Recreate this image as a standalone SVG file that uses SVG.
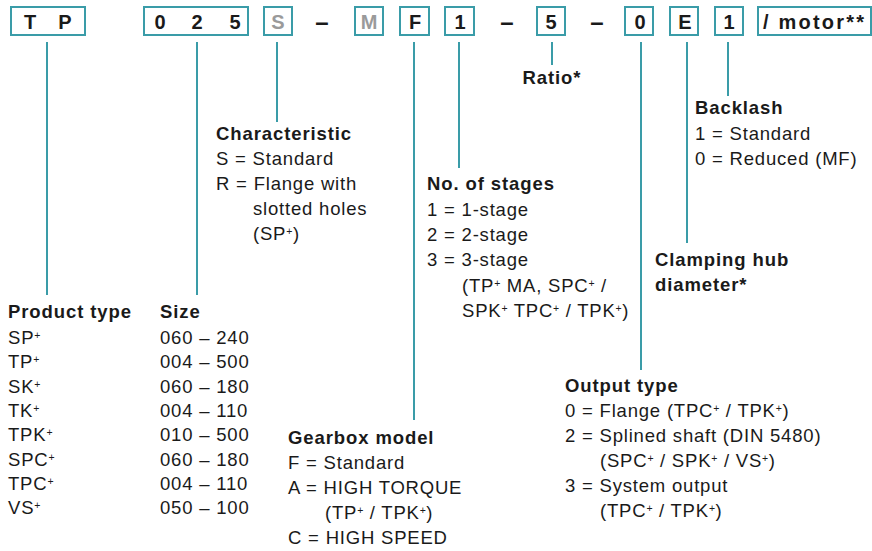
<svg xmlns="http://www.w3.org/2000/svg" width="872" height="551" viewBox="0 0 872 551">
<style>
text{font-family:"Liberation Sans",Arial,Helvetica,sans-serif;fill:#1a1a1a}
.t{font-size:18.5px;letter-spacing:0.8px}
.b{font-size:18.5px;font-weight:bold;letter-spacing:0.9px}
.k{font-size:20px;font-weight:bold;text-anchor:middle}
.d{font-size:24px;font-weight:bold;text-anchor:middle}
.g{fill:#9a9a9a}
.m{font-size:20px;font-weight:bold;letter-spacing:2.2px}
.sup{font-size:10.5px;baseline-shift:5.5px;letter-spacing:0.5px}
.box{fill:none;stroke:#3a9ca8;stroke-width:2}
.ln{stroke:#3a9ca8;stroke-width:2;fill:none}
</style>
<rect width="872" height="551" fill="#ffffff"/>
<g id="code">
  <g id="box-tp"><rect class="box" x="11" y="7" width="74" height="28"/><text class="k" x="30" y="28.5">T</text><text class="k" x="65" y="28.5">P</text></g>
  <g id="box-size"><rect class="box" x="144" y="7" width="104" height="28"/><text class="k" x="160" y="28.5">0</text><text class="k" x="197" y="28.5">2</text><text class="k" x="235" y="28.5">5</text></g>
  <g id="box-s"><rect class="box" x="264" y="7" width="28" height="28"/><text class="k g" x="278" y="28.5">S</text></g>
  <text class="d" x="322" y="30">–</text>
  <g id="box-m"><rect class="box" x="355" y="7" width="28" height="28"/><text class="k g" x="369" y="28.5">M</text></g>
  <g id="box-f"><rect class="box" x="400" y="7" width="29" height="28"/><text class="k" x="415" y="28.5">F</text></g>
  <g id="box-1"><rect class="box" x="445" y="7" width="29" height="28"/><text class="k" x="460" y="28.5">1</text></g>
  <text class="d" x="507" y="30">–</text>
  <g id="box-5"><rect class="box" x="537" y="7" width="28" height="28"/><text class="k" x="551" y="28.5">5</text></g>
  <text class="d" x="597" y="30">–</text>
  <g id="box-0"><rect class="box" x="625" y="7" width="28" height="28"/><text class="k" x="640" y="28.5">0</text></g>
  <g id="box-e"><rect class="box" x="670" y="7" width="28" height="28"/><text class="k" x="685" y="28.5">E</text></g>
  <g id="box-b1"><rect class="box" x="715" y="7" width="28" height="28"/><text class="k" x="729" y="28.5">1</text></g>
  <g id="box-motor"><rect class="box" x="758" y="7" width="113" height="28"/><text class="m" x="763" y="28.5">/ motor**</text></g>
</g>
<g id="connectors">
  <line class="ln" x1="47" y1="42" x2="47" y2="295"/>
  <line class="ln" x1="197" y1="42" x2="197" y2="295"/>
  <line class="ln" x1="277" y1="42" x2="277" y2="122"/>
  <line class="ln" x1="414" y1="42" x2="414" y2="420"/>
  <line class="ln" x1="459" y1="42" x2="459" y2="168"/>
  <line class="ln" x1="552" y1="42" x2="552" y2="65"/>
  <line class="ln" x1="641" y1="42" x2="641" y2="370"/>
  <line class="ln" x1="687" y1="42" x2="687" y2="243"/>
  <line class="ln" x1="728" y1="42" x2="728" y2="96"/>
</g>
<g id="product-type">
  <text class="b" x="8" y="318">Product type</text>
  <text class="t" x="8" y="344">SP<tspan class="sup">+</tspan></text>
  <text class="t" x="8" y="368">TP<tspan class="sup">+</tspan></text>
  <text class="t" x="8" y="393">SK<tspan class="sup">+</tspan></text>
  <text class="t" x="8" y="417">TK<tspan class="sup">+</tspan></text>
  <text class="t" x="8" y="441">TPK<tspan class="sup">+</tspan></text>
  <text class="t" x="8" y="466">SPC<tspan class="sup">+</tspan></text>
  <text class="t" x="8" y="490">TPC<tspan class="sup">+</tspan></text>
  <text class="t" x="8" y="514">VS<tspan class="sup">+</tspan></text>
</g>
<g id="size">
  <text class="b" x="160" y="318">Size</text>
  <text class="t" x="160" y="344">060 – 240</text>
  <text class="t" x="160" y="368">004 – 500</text>
  <text class="t" x="160" y="393">060 – 180</text>
  <text class="t" x="160" y="417">004 – 110</text>
  <text class="t" x="160" y="441">010 – 500</text>
  <text class="t" x="160" y="466">060 – 180</text>
  <text class="t" x="160" y="490">004 – 110</text>
  <text class="t" x="160" y="514">050 – 100</text>
</g>
<g id="characteristic">
  <text class="b" x="216" y="140">Characteristic</text>
  <text class="t" x="216" y="165">S = Standard</text>
  <text class="t" x="216" y="190">R = Flange with</text>
  <text class="t" x="253" y="215">slotted holes</text>
  <text class="t" x="253" y="240">(SP<tspan class="sup">+</tspan>)</text>
</g>
<g id="gearbox-model">
  <text class="b" x="288" y="444">Gearbox model</text>
  <text class="t" x="288" y="469">F = Standard</text>
  <text class="t" x="288" y="494">A = HIGH TORQUE</text>
  <text class="t" x="325" y="519">(TP<tspan class="sup">+</tspan> / TPK<tspan class="sup">+</tspan>)</text>
  <text class="t" x="288" y="544">C = HIGH SPEED</text>
</g>
<g id="stages">
  <text class="b" x="427" y="190">No. of stages</text>
  <text class="t" x="427" y="216">1 = 1-stage</text>
  <text class="t" x="427" y="241">2 = 2-stage</text>
  <text class="t" x="427" y="266">3 = 3-stage</text>
  <text class="t" x="462" y="292">(TP<tspan class="sup">+</tspan> MA, SPC<tspan class="sup">+</tspan> /</text>
  <text class="t" x="462" y="317">SPK<tspan class="sup">+</tspan> TPC<tspan class="sup">+</tspan> / TPK<tspan class="sup">+</tspan>)</text>
</g>
<g id="ratio">
  <text class="b" x="552" y="84" text-anchor="middle">Ratio*</text>
</g>
<g id="output-type">
  <text class="b" x="565" y="392">Output type</text>
  <text class="t" x="565" y="417">0 = Flange (TPC<tspan class="sup">+</tspan> / TPK<tspan class="sup">+</tspan>)</text>
  <text class="t" x="565" y="442">2 = Splined shaft (DIN 5480)</text>
  <text class="t" x="600" y="467">(SPC<tspan class="sup">+</tspan> / SPK<tspan class="sup">+</tspan> / VS<tspan class="sup">+</tspan>)</text>
  <text class="t" x="565" y="492">3 = System output</text>
  <text class="t" x="600" y="517">(TPC<tspan class="sup">+</tspan> / TPK<tspan class="sup">+</tspan>)</text>
</g>
<g id="clamping-hub">
  <text class="b" x="655" y="266">Clamping hub</text>
  <text class="b" x="655" y="291">diameter*</text>
</g>
<g id="backlash">
  <text class="b" x="695" y="114">Backlash</text>
  <text class="t" x="695" y="140">1 = Standard</text>
  <text class="t" x="695" y="165">0 = Reduced (MF)</text>
</g>
</svg>
